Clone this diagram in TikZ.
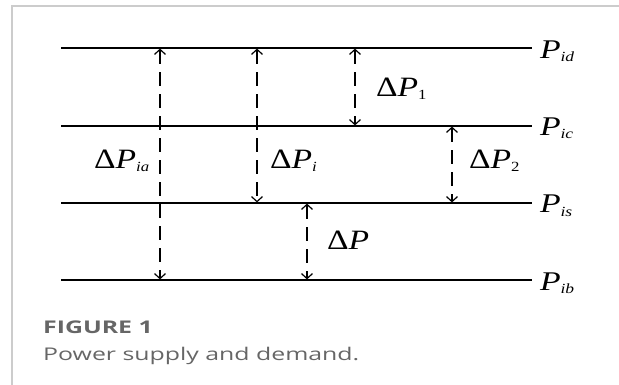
\documentclass[tikz,border=0pt]{standalone}
\usepackage{fontspec}
\setmainfont{Liberation Serif}
\newfontfamily\capfont{Open Sans}
\usetikzlibrary{arrows.meta}
\definecolor{framegray}{HTML}{CCCCCC}
\definecolor{capgray}{HTML}{666666}
\newcommand{\mlbl}[1]{\scalebox{1.2}[1]{\fontsize{28}{28}\selectfont \textup{Δ}\textit{P}\raisebox{-3pt}{\fontsize{14}{14}\selectfont #1}}}
\newcommand{\plbl}[1]{\scalebox{1.25}[1]{\fontsize{27}{27}\selectfont \textit{P}\raisebox{-3pt}{\fontsize{14}{14}\selectfont\textit{#1}}}}
\tikzset{
  level/.style={line width=1.6pt},
  gap/.style={line width=1.3pt, dash pattern=on 14pt off 8pt, {Straight Barb[length=5pt,width=11pt,line width=1.2pt]}-{Straight Barb[length=5pt,width=11pt,line width=1.2pt]}, shorten <=0.6pt, shorten >=0.6pt},
  lab/.style={anchor=base west, inner sep=0pt, outer sep=0pt},
  frame/.style={draw=framegray, line width=1.3pt},
}
\begin{document}
\begin{tikzpicture}[x=1pt,y=-1pt]
\useasboundingbox (0,0) rectangle (619,385);
\draw[frame] (12,385) -- (12,6) -- (619,6);
% level lines
\coordinate (d0) at (61,48);  \coordinate (d1) at (532,48);
\coordinate (c0) at (61,126); \coordinate (c1) at (532,126);
\coordinate (s0) at (61,203); \coordinate (s1) at (532,203);
\coordinate (b0) at (61,280); \coordinate (b1) at (532,280);
\draw[level] (d0) -- (d1);
\draw[level] (c0) -- (c1);
\draw[level] (s0) -- (s1);
\draw[level] (b0) -- (b1);
% level labels
\node[lab] (Pid) at (540,59) {\plbl{id}};
\node[lab] (Pic) at (540,136) {\plbl{ic}};
\node[lab] (Pis) at (540,213) {\plbl{is}};
\node[lab] (Pib) at (540,290) {\plbl{ib}};
% arrow end points
\coordinate (a1t) at (160,48);  \coordinate (a1b) at (160,280);
\coordinate (a2t) at (257,48);  \coordinate (a2b) at (257,203);
\coordinate (a3t) at (355,48);  \coordinate (a3b) at (355,126);
\coordinate (a4t) at (452,126); \coordinate (a4b) at (452,203);
\coordinate (a5t) at (307,203); \coordinate (a5b) at (307,280);
\draw[gap] (a1t) -- (a1b);
\draw[gap] (a2t) -- (a2b);
\draw[gap] (a3t) -- (a3b);
\draw[gap] (a4t) -- (a4b);
\draw[gap] (a5t) -- (a5b);
% difference labels
\node[lab] (dPia) at (94,169) {\mlbl{\textit{ia}}};
\node[lab] (dPi) at (270,169) {\mlbl{\textit{i}}};
\node[lab] (dP1) at (376,97) {\mlbl{1}};
\node[lab] (dP2) at (469,169) {\mlbl{2}};
\node[lab] (dP) at (327,249) {\mlbl{}};
% caption
\node[anchor=base west, inner sep=0pt, text=capgray] (fig) at (43,333) {\scalebox{1.42}[1]{\capfont\bfseries\fontsize{17.5}{17.5}\selectfont FIGURE 1}};
\node[anchor=base west, inner sep=0pt, text=capgray] (cap) at (43,360) {\scalebox{1.42}[1]{\capfont\fontsize{17.5}{17.5}\selectfont Power supply and demand.}};
\end{tikzpicture}
\end{document}
